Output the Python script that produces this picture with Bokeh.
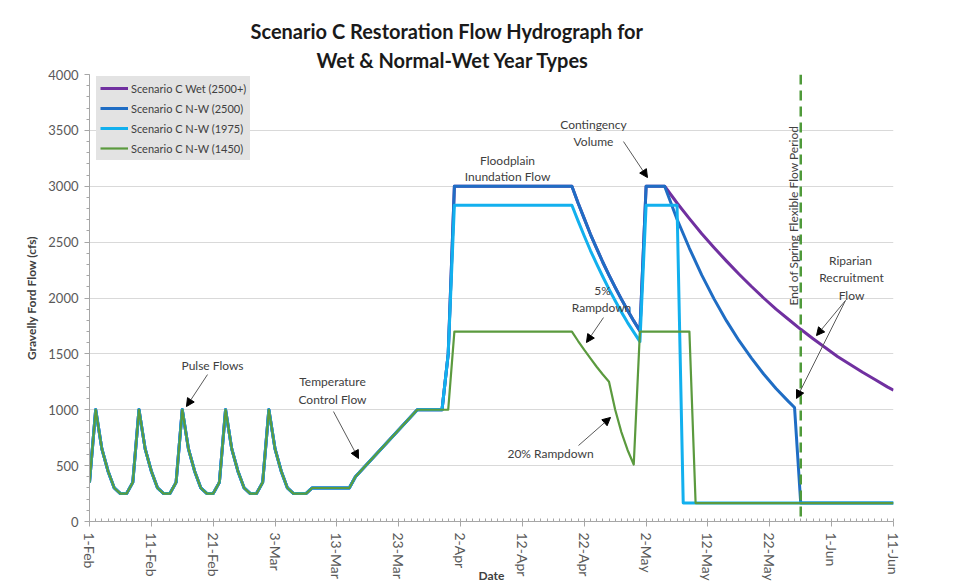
from bokeh.plotting import figure
from bokeh.models import (Range1d, FixedTicker, SingleIntervalTicker, Legend, LegendItem,
                          Label, Arrow, NormalHead, Span, Title)
from bokeh.embed import file_html
from bokeh.resources import INLINE

# ---------------- data (day 0 = 1-Feb) ----------------
tick_days = [0, 10, 20, 30, 40, 50, 60, 70, 80, 90, 100, 110, 120, 130]
tick_labels = ["1-Feb", "11-Feb", "21-Feb", "3-Mar", "13-Mar", "23-Mar", "2-Apr",
               "12-Apr", "22-Apr", "2-May", "12-May", "22-May", "1-Jun", "11-Jun"]

# common part: pulse flows + temperature control flow
early_days = [0, 1, 2, 3, 4, 5, 6, 7, 8, 9, 10, 11, 12, 13, 14, 15, 16, 17, 18, 19, 20,
              21, 22, 23, 24, 25, 26, 27, 28, 29, 30, 31, 32, 33, 34, 35, 36, 42, 43, 53, 57]
early_flow = [350, 1000, 650, 450, 300, 250, 250, 350, 1000, 650, 450, 300, 250, 250, 350,
              1000, 650, 450, 300, 250, 250, 350, 1000, 650, 450, 300, 250, 250, 350, 1000,
              650, 450, 300, 250, 250, 250, 300, 300, 400, 1000, 1000]

wet_days = [58, 59, 78, 79, 80, 81, 82, 83, 84, 85, 86, 87, 88, 89, 90, 93, 95, 97, 99, 101,
            103, 105, 107, 109, 111, 113, 115, 117, 119, 121, 123, 125, 127, 129, 130]
wet_flow = [1500, 3000, 3000, 2850, 2710, 2570, 2445, 2320, 2205, 2095, 1990, 1890, 1795, 1705,
            3000, 3000, 2850, 2710, 2575, 2450, 2330, 2215, 2105, 2000, 1900, 1810, 1720, 1635,
            1555, 1475, 1405, 1335, 1270, 1205, 1175]

nw2500_days = [58, 59, 78, 79, 80, 81, 82, 83, 84, 85, 86, 87, 88, 89, 90, 93, 95, 97, 99,
               101, 103, 105, 107, 109, 111, 113, 114, 115, 130]
nw2500_flow = [1500, 3000, 3000, 2850, 2710, 2570, 2445, 2320, 2205, 2095, 1990, 1890, 1795,
               1705, 3000, 3000, 2705, 2445, 2205, 1990, 1795, 1620, 1465, 1320, 1190, 1075,
               1020, 165, 165]

nw1975_days = [58, 59, 78, 79, 80, 81, 82, 83, 84, 85, 86, 87, 88, 89, 90, 95, 96, 130]
nw1975_flow = [1500, 2830, 2830, 2690, 2555, 2425, 2305, 2190, 2080, 1975, 1875, 1780, 1695,
               1610, 2830, 2830, 165, 165]

nw1450_days = [58, 59, 78, 79, 80, 81, 82, 83, 84, 85, 86, 87, 88, 89, 97, 98, 130]
nw1450_flow = [1000, 1700, 1700, 1615, 1535, 1460, 1385, 1315, 1250, 1000, 800, 640, 510,
               1700, 1700, 165, 165]

end_of_spring_day = 115

series_names = ["Scenario C Wet (2500+)", "Scenario C N-W (2500)",
                "Scenario C N-W (1975)", "Scenario C N-W (1450)"]
series_colors = ["#7030a0", "#1f6dc4", "#12b0ee", "#5b9a3e"]
series_widths = [3, 3, 3, 2.2]
series_days = [early_days + wet_days, early_days + nw2500_days,
               early_days + nw1975_days, early_days + nw1450_days]
series_flow = [early_flow + wet_flow, early_flow + nw2500_flow,
               early_flow + nw1975_flow, early_flow + nw1450_flow]

FONT = "Lato"
TXT = "#404040"

p = figure(frame_width=804, frame_height=447, x_range=Range1d(0, 130), y_range=Range1d(0, 4000),
           output_backend="svg", toolbar_location=None,
           min_border_left=89, min_border_right=58, min_border_top=74, min_border_bottom=58)
p.outline_line_color = None
p.background_fill_color = "white"
p.border_fill_color = "white"

# two-line title (outer line = p.title, inner line = added Title)
p.title.text = "Scenario C Restoration Flow Hydrograph for"
p.title.align = "left"
p.title.offset = 161
p.title.text_font = FONT
p.title.text_font_size = "20px"
p.title.text_font_style = "bold"
p.title.text_color = "#1a1a1a"
p.title.standoff = 0
p.add_layout(Title(text="Wet & Normal-Wet Year Types", align="left", offset=227,
                   text_font=FONT, text_font_size="20px", text_font_style="bold",
                   text_color="#1a1a1a", standoff=6), "above")

p.xgrid.visible = False
p.ygrid.grid_line_color = "#d9d9d9"
p.ygrid.grid_line_width = 1

p.yaxis.ticker = SingleIntervalTicker(interval=500, num_minor_ticks=5)
p.xaxis.ticker = FixedTicker(ticks=tick_days, minor_ticks=list(range(0, 131)))
p.xaxis.major_label_overrides = {d: l for d, l in zip(tick_days, tick_labels)}
p.xaxis.major_label_orientation = "vertical"

for ax in (p.xaxis, p.yaxis):
    ax.axis_line_color = "#a6a6a6"
    ax.major_tick_line_color = "#a6a6a6"
    ax.minor_tick_line_color = "#a6a6a6"
    ax.major_label_text_font = FONT
    ax.major_label_text_font_size = "13px"
    ax.major_label_text_color = "#595959"
    ax.major_tick_in = 0
    ax.major_tick_out = 5
p.xaxis.major_label_text_font_size = "14px"
p.xaxis.minor_tick_in = 3
p.xaxis.minor_tick_out = 0
p.yaxis.minor_tick_in = 0
p.yaxis.minor_tick_out = 3
p.xaxis.major_label_standoff = 6
p.yaxis.major_label_standoff = 6

p.yaxis.axis_label = "Gravelly Ford Flow (cfs)"
p.yaxis.axis_label_text_font = FONT
p.yaxis.axis_label_text_font_style = "bold"
p.yaxis.axis_label_text_font_size = "12px"
p.yaxis.axis_label_text_color = TXT
p.yaxis.axis_label_standoff = 6

p.xaxis.axis_label = "Date"
p.xaxis.axis_label_text_font = FONT
p.xaxis.axis_label_text_font_style = "bold"
p.xaxis.axis_label_text_font_size = "12px"
p.xaxis.axis_label_text_color = TXT
p.xaxis.axis_label_standoff = -16

renderers = []
for d, f, c, w in zip(series_days, series_flow, series_colors, series_widths):
    renderers.append(p.line(d, f, line_color=c, line_width=w, line_join="round"))

p.add_layout(Span(location=end_of_spring_day, dimension="height", line_color="#4f9a3a",
                  line_width=2.5, line_dash="10 6"))

legend = Legend(items=[LegendItem(label=n, renderers=[r]) for n, r in zip(series_names, renderers)],
                location=(7, 361), orientation="vertical", margin=0, padding=4,
                spacing=4, glyph_width=28, glyph_height=16, label_height=16,
                label_standoff=3, label_text_font=FONT, label_text_font_size="11px",
                label_text_color=TXT, background_fill_color="#e3e3e3", background_fill_alpha=1,
                border_line_alpha=0)
p.add_layout(legend)


def lab(x, y, t, angle=0):
    p.add_layout(Label(x=x, y=y, text=t, text_font=FONT, text_font_size="12px",
                       text_color=TXT, text_align="center", text_baseline="middle", angle=angle))


lab(19.89, 1396, "Pulse Flows")
lab(39.29, 1253, "Temperature")
lab(39.29, 1092, "Control Flow")
lab(67.59, 3230, "Floodplain")
lab(67.59, 3087, "Inundation Flow")
lab(81.49, 3553, "Contingency")
lab(81.49, 3400, "Volume")
lab(82.95, 2067, "5%")
lab(82.79, 1915, "Rampdown")
lab(74.54, 608, "20% Rampdown")
lab(123.05, 2336, "Riparian")
lab(123.21, 2183, "Recruitment")
lab(123.21, 2022, "Flow")
lab(113.83, 2738, "End of Spring Flexible Flow Period", angle=1.5708)

arrows = [((19.08, 1315), (15.68, 1029)),
          ((39.45, 984), (43.50, 564)),
          ((86.34, 3400), (90.22, 3078)),
          ((83.11, 1825), (80.36, 1602)),
          ((79.07, 680), (84.24, 931)),
          ((122.24, 1978), (117.55, 1664)),
          ((122.24, 1978), (114.32, 1101))]
for (xs, ys), (xe, ye) in arrows:
    p.add_layout(Arrow(end=NormalHead(size=8, fill_color="black", line_color="black", line_width=1),
                       x_start=xs, y_start=ys, x_end=xe, y_end=ye,
                       line_color="#595959", line_width=1))

open("out.html", "w").write(file_html(p, INLINE))
